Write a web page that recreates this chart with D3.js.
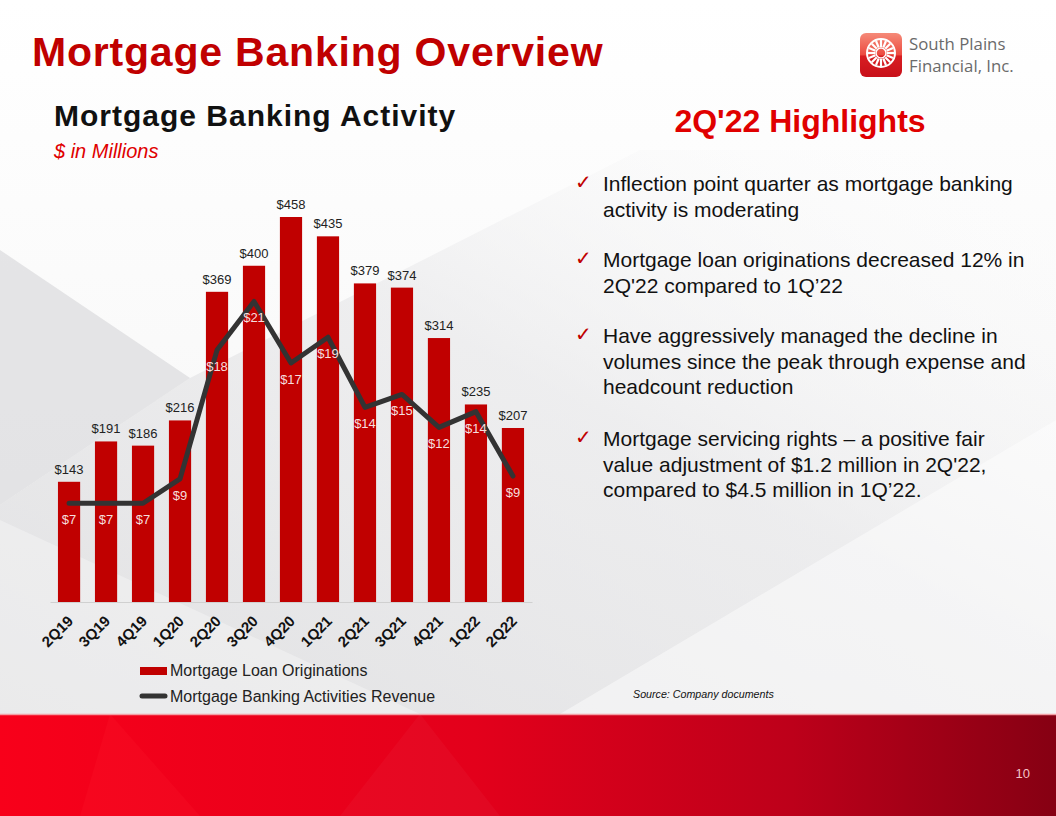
<!DOCTYPE html>
<html>
<head>
<meta charset="UTF-8">
<title>Mortgage Banking Overview</title>
<script src="https://cdn.jsdelivr.net/npm/d3@7"></script>
<style>
  body { margin: 0; background: #fff; }
  svg { display: block; font-family: "Liberation Sans", Arial, sans-serif; }
</style>
</head>
<body>
<div id="slide"></div>
<script>
// DATA
var quarters = ["2Q19","3Q19","4Q19","1Q20","2Q20","3Q20","4Q20","1Q21","2Q21","3Q21","4Q21","1Q22","2Q22"];
var originations = [143, 191, 186, 216, 369, 400, 458, 435, 379, 374, 314, 235, 207];
var revenue = [6.9, 6.9, 6.9, 8.6, 17.6, 21.0, 16.7, 18.5, 13.6, 14.5, 12.2, 13.3, 8.8];
var revenueLabels = ["$7","$7","$7","$9","$18","$21","$17","$19","$14","$15","$12","$14","$9"];
var seriesNames = ["Mortgage Loan Originations", "Mortgage Banking Activities Revenue"];
var highlights = [
  ["Inflection point quarter as mortgage banking", "activity is moderating"],
  ["Mortgage loan originations decreased 12% in", "2Q'22 compared to 1Q\u201922"],
  ["Have aggressively managed the decline in", "volumes since the peak through expense and", "headcount reduction"],
  ["Mortgage servicing rights \u2013 a positive fair", "value adjustment of $1.2 million in 2Q'22,", "compared to $4.5 million in 1Q\u201922."]
];

var W = 1056, H = 816;
var red = "#c00000";

var svg = d3.select("#slide").append("svg")
    .attr("width", W)
    .attr("height", H);

var defs = svg.append("defs");

// background
var bg = defs.append("linearGradient").attr("id", "bg").attr("x1", 0).attr("y1", 0).attr("x2", 0).attr("y2", 1);
bg.append("stop").attr("offset", 0).attr("stop-color", "#ffffff");
bg.append("stop").attr("offset", 1).attr("stop-color", "#f3f3f3");
svg.append("rect").attr("width", W).attr("height", H).attr("fill", "url(#bg)");

// soft diagonal shapes behind the chart
var plane = defs.append("linearGradient").attr("id", "plane").attr("x1", 0).attr("y1", 1).attr("x2", 1).attr("y2", 0);
plane.append("stop").attr("offset", 0).attr("stop-color", "#dcdcde").attr("stop-opacity", 0.8);
plane.append("stop").attr("offset", 0.55).attr("stop-color", "#e6e6e8").attr("stop-opacity", 0.6);
plane.append("stop").attr("offset", 1).attr("stop-color", "#ffffff").attr("stop-opacity", 0);
svg.append("polygon").attr("points", "0,505 190,378 640,150 1056,150 1056,714 0,714")
   .attr("fill", "url(#plane)");
svg.append("polygon").attr("points", "0,250 190,378 0,505")
   .attr("fill", "#d6d6d8").attr("opacity", 0.6);
svg.append("polygon").attr("points", "0,520 420,714 0,714")
   .attr("fill", "#ffffff").attr("opacity", 0.3);
svg.append("polygon").attr("points", "560,714 1056,420 1056,714")
   .attr("fill", "#ffffff").attr("opacity", 0.45);

// bottom band
var band = defs.append("linearGradient").attr("id", "band").attr("x1", 0).attr("y1", 0).attr("x2", 1).attr("y2", 0);
band.append("stop").attr("offset", 0).attr("stop-color", "#f8001a");
band.append("stop").attr("offset", 0.45).attr("stop-color", "#e3001b");
band.append("stop").attr("offset", 0.75).attr("stop-color", "#bd001a");
band.append("stop").attr("offset", 1).attr("stop-color", "#860013");
svg.append("rect").attr("x", 0).attr("y", 714).attr("width", W).attr("height", H - 714).attr("fill", "url(#band)");
svg.append("polygon").attr("points", "110,714 200,816 80,816").attr("fill", "#ff2030").attr("opacity", 0.18);
svg.append("polygon").attr("points", "420,714 500,816 340,816").attr("fill", "#ffffff").attr("opacity", 0.03);
svg.append("line").attr("x1", 0).attr("x2", W).attr("y1", 714.5).attr("y2", 714.5)
   .attr("stroke", "#f3a0a6").attr("stroke-width", 1.5);
svg.append("text").attr("x", 1030).attr("y", 778).attr("text-anchor", "end")
   .attr("font-family", "'Liberation Sans Narrow', 'Arial Narrow', sans-serif")
   .attr("font-size", 13).attr("fill", "#f4c4c8").text("10");

// titles
svg.append("text").attr("x", 32).attr("y", 66).attr("font-size", 41).attr("font-weight", "bold")
   .attr("letter-spacing", 0.8).attr("fill", red).text("Mortgage Banking Overview");
svg.append("text").attr("x", 54).attr("y", 126).attr("font-size", 30).attr("font-weight", "bold")
   .attr("letter-spacing", 1).attr("fill", "#111").text("Mortgage Banking Activity");
svg.append("text").attr("x", 54).attr("y", 158).attr("font-size", 20).attr("font-style", "italic")
   .attr("fill", "#e00000").text("$ in Millions");

// logo
var lg = defs.append("linearGradient").attr("id", "logo").attr("x1", 0).attr("y1", 0).attr("x2", 0).attr("y2", 1);
lg.append("stop").attr("offset", 0).attr("stop-color", "#f58a78");
lg.append("stop").attr("offset", 0.5).attr("stop-color", "#ec4a40");
lg.append("stop").attr("offset", 0.52).attr("stop-color", "#d81e22");
lg.append("stop").attr("offset", 1).attr("stop-color", "#c8101a");
svg.append("rect").attr("x", 860).attr("y", 33).attr("width", 42).attr("height", 44).attr("rx", 6)
   .attr("fill", "url(#logo)");
var wheel = svg.append("g").attr("transform", "translate(881,53)");
wheel.append("circle").attr("r", 14).attr("fill", "none").attr("stroke", "#fff").attr("stroke-width", 2);
wheel.append("circle").attr("r", 5).attr("fill", "none").attr("stroke", "#fff").attr("stroke-width", 1.5);
wheel.selectAll("line.spoke").data(d3.range(16)).enter().append("line")
   .attr("class", "spoke")
   .attr("x1", function (d) { return 6 * Math.cos(d * Math.PI / 8); })
   .attr("y1", function (d) { return 6 * Math.sin(d * Math.PI / 8); })
   .attr("x2", function (d) { return 13 * Math.cos(d * Math.PI / 8); })
   .attr("y2", function (d) { return 13 * Math.sin(d * Math.PI / 8); })
   .attr("stroke", "#fff").attr("stroke-width", 2.2);
svg.append("text").attr("x", 909).attr("y", 50).attr("font-size", 16.8).attr("fill", "#6a6a6a")
   .attr("font-family", "'Open Sans', sans-serif").text("South Plains");
svg.append("text").attr("x", 909).attr("y", 72).attr("font-size", 16.8).attr("fill", "#6a6a6a")
   .attr("font-family", "'Open Sans', sans-serif").text("Financial, Inc.");

// CHART
var base = 602;
var x = d3.scaleBand().domain(quarters).range([50, 532]).paddingInner(0.4).paddingOuter(0.215);
var y = d3.scaleLinear().domain([0, 458]).range([base, 217]);
var y2 = d3.scaleLinear().domain([0, 26.9]).range([base, 217]);

var chart = svg.append("g");

chart.selectAll("rect.bar").data(originations).enter().append("rect")
   .attr("class", "bar")
   .attr("x", function (d, i) { return x(quarters[i]); })
   .attr("y", function (d) { return y(d); })
   .attr("width", x.bandwidth())
   .attr("height", function (d) { return base - y(d); })
   .attr("fill", red);

chart.selectAll("text.barlab").data(originations).enter().append("text")
   .attr("class", "barlab")
   .attr("x", function (d, i) { return x(quarters[i]) + x.bandwidth() / 2; })
   .attr("y", function (d) { return y(d) - 8; })
   .attr("text-anchor", "middle").attr("font-size", 13).attr("fill", "#222")
   .text(function (d) { return "$" + d; });

// axis line
var xAxis = d3.axisBottom(x).tickSize(0).tickPadding(0);
var ax = chart.append("g").attr("transform", "translate(0," + base + ")").call(xAxis);
ax.select(".domain").attr("stroke", "#d0d0d0").attr("stroke-width", 1.2);
ax.selectAll(".tick text")
   .attr("font-family", "'Liberation Sans', Arial, sans-serif")
   .attr("font-size", 15).attr("font-weight", "bold").attr("fill", "#111")
   .attr("text-anchor", "end")
   .attr("dy", 0).attr("y", 0)
   .attr("transform", "translate(5,20) rotate(-45)");

// revenue line
var line = d3.line()
   .x(function (d, i) { return x(quarters[i]) + x.bandwidth() / 2; })
   .y(function (d) { return y2(d); });
chart.append("path").datum(revenue)
   .attr("d", line)
   .attr("fill", "none").attr("stroke", "#333").attr("stroke-width", 5)
   .attr("stroke-linejoin", "round").attr("stroke-linecap", "round");

chart.selectAll("text.revlab").data(revenue).enter().append("text")
   .attr("class", "revlab")
   .attr("x", function (d, i) { return x(quarters[i]) + x.bandwidth() / 2; })
   .attr("y", function (d) { return y2(d) + 21; })
   .attr("text-anchor", "middle").attr("font-size", 13).attr("fill", "#f6dede")
   .text(function (d, i) { return revenueLabels[i]; });

// legend
var leg = svg.append("g");
leg.append("rect").attr("x", 140).attr("y", 667).attr("width", 27).attr("height", 8).attr("fill", red);
leg.append("text").attr("x", 170).attr("y", 676).attr("font-size", 16).attr("fill", "#222").text(seriesNames[0]);
leg.append("line").attr("x1", 142).attr("x2", 165).attr("y1", 696).attr("y2", 696)
   .attr("stroke", "#333").attr("stroke-width", 5).attr("stroke-linecap", "round");
leg.append("text").attr("x", 170).attr("y", 702).attr("font-size", 16).attr("fill", "#222").text(seriesNames[1]);

// highlights
svg.append("text").attr("x", 800).attr("y", 132).attr("text-anchor", "middle")
   .attr("font-size", 32).attr("font-weight", "bold").attr("fill", "#e00000").text("2Q'22 Highlights");

var yStart = [191, 267, 343, 446];
var hl = svg.append("g");
highlights.forEach(function (lines, k) {
  hl.append("text").attr("x", 575).attr("y", yStart[k] - 2)
     .attr("font-family", "'DejaVu Sans', sans-serif")
     .attr("font-size", 20).attr("fill", "#c00000").text("\u2713");
  lines.forEach(function (t, j) {
    hl.append("text").attr("x", 603).attr("y", yStart[k] + j * 25.5)
       .attr("font-size", 21).attr("fill", "#111").text(t);
  });
});

svg.append("text").attr("x", 633).attr("y", 698).attr("font-size", 10.7).attr("font-style", "italic")
   .attr("fill", "#111").text("Source: Company documents");
</script>
</body>
</html>
